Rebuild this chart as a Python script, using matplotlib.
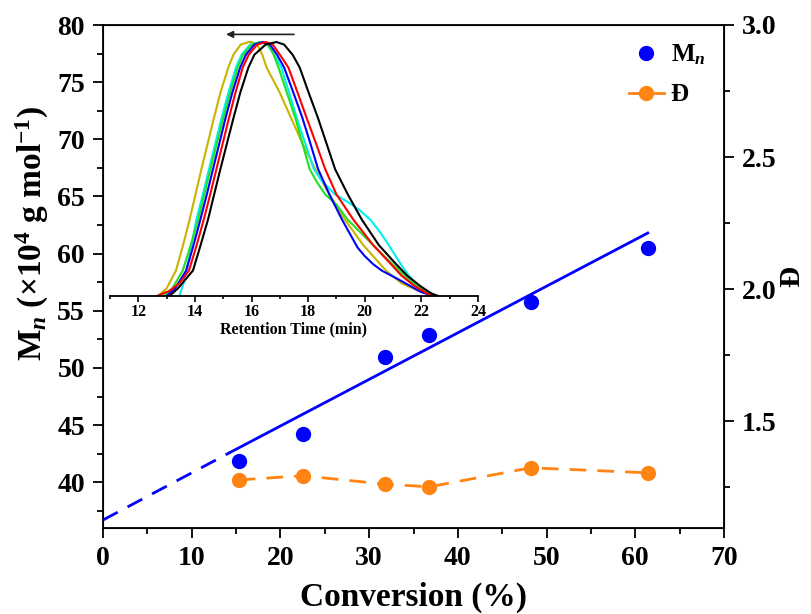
import matplotlib
matplotlib.use('Agg')
import matplotlib.pyplot as plt
from matplotlib.lines import Line2D
from matplotlib.ticker import MultipleLocator

plt.rcParams['font.family'] = ['Liberation Serif', 'DejaVu Serif']
plt.rcParams['font.weight'] = 'bold'
plt.rcParams['mathtext.fontset'] = 'custom'
plt.rcParams['mathtext.rm'] = 'Liberation Serif:bold'
plt.rcParams['mathtext.it'] = 'Liberation Serif:italic:bold'
plt.rcParams['mathtext.bf'] = 'Liberation Serif:bold'

# main data
conversion = [15.3, 22.5, 31.8, 36.8, 48.2, 61.4]
mn = [41.9, 44.2, 51.0, 52.9, 55.8, 60.5]
dispersity = [1.277, 1.293, 1.261, 1.251, 1.323, 1.304]

# linear fit
fit_dash_x = [0, 14.3]
fit_dash_y = [36.7, 42.6]
fit_solid_x = [14.3, 61.4]
fit_solid_y = [42.6, 61.8]

# GPC traces (retention time, normalised signal)
yellow_t = [12.7, 13.0, 13.33, 13.58, 13.81, 14.02, 14.23, 14.45, 14.67, 14.9, 15.18, 15.36, 15.62, 15.9,
            16.0, 16.2, 16.38, 16.53, 17.0, 17.4, 17.8, 18.25, 18.75, 19.3, 19.95, 20.75, 21.3, 21.9, 22.45]
yellow_s = [0, 0.03, 0.1, 0.2, 0.3, 0.4, 0.5, 0.6, 0.7, 0.8, 0.9, 0.95, 0.99, 1.0,
            1.0, 0.99, 0.95, 0.9, 0.8, 0.7, 0.6, 0.5, 0.4, 0.3, 0.2, 0.1, 0.05, 0.02, 0]
cyan_t = [13.45, 13.6, 13.7, 13.88, 14.05, 14.28, 14.5, 14.72, 14.94, 15.18, 15.45, 15.65, 15.95, 16.3,
          16.55, 16.8, 17.05, 17.33, 17.6, 17.9, 18.2, 18.5, 18.95, 19.4, 19.8, 20.2, 20.55, 20.85, 21.24, 21.55, 21.9, 22.5]
cyan_s = [0, 0.05, 0.1, 0.2, 0.3, 0.4, 0.5, 0.6, 0.7, 0.8, 0.9, 0.95, 0.99, 1.0,
          0.99, 0.95, 0.9, 0.8, 0.7, 0.6, 0.5, 0.45, 0.4, 0.37, 0.34, 0.3, 0.25, 0.2, 0.131, 0.08, 0.04, 0]
green_t = [12.9, 13.2, 13.57, 13.85, 14.11, 14.33, 14.55, 14.77, 15.0, 15.24, 15.51, 15.7, 16.0, 16.35,
           16.6, 16.78, 16.95, 17.25, 17.55, 17.8, 18.05, 18.3, 18.6, 19.0, 19.4, 19.76, 20.3, 20.75, 21.18, 21.6, 22.1, 22.4]
green_s = [0, 0.03, 0.1, 0.2, 0.3, 0.4, 0.5, 0.6, 0.7, 0.8, 0.9, 0.95, 0.99, 1.0,
           0.99, 0.95, 0.9, 0.8, 0.7, 0.6, 0.5, 0.45, 0.4, 0.36, 0.3, 0.26, 0.2, 0.15, 0.105, 0.06, 0.02, 0]
blue_t = [13.0, 13.3, 13.69, 13.95, 14.19, 14.42, 14.64, 14.86, 15.08, 15.32, 15.6, 15.8, 16.1, 16.4,
          16.65, 16.9, 17.15, 17.48, 17.8, 18.08, 18.35, 18.75, 19.2, 19.5, 19.75, 20.0, 20.3, 20.6, 21.18, 21.6, 22.0, 22.45]
blue_s = [0, 0.03, 0.1, 0.2, 0.3, 0.4, 0.5, 0.6, 0.7, 0.8, 0.9, 0.95, 0.99, 1.0,
          0.99, 0.95, 0.9, 0.8, 0.7, 0.6, 0.5, 0.4, 0.3, 0.24, 0.19, 0.157, 0.125, 0.1, 0.066, 0.04, 0.015, 0]
red_t = [12.65, 13.1, 13.45, 13.79, 14.06, 14.31, 14.54, 14.76, 14.98, 15.2, 15.43, 15.69, 15.9, 16.2, 16.5,
         16.75, 17.0, 17.3, 17.63, 17.95, 18.28, 18.6, 19.0, 19.6, 20.3, 20.88, 21.3, 21.75, 22.2, 22.5]
red_s = [0, 0.02, 0.05, 0.1, 0.2, 0.3, 0.4, 0.5, 0.6, 0.7, 0.8, 0.9, 0.95, 0.99, 1.0,
         0.99, 0.95, 0.9, 0.8, 0.7, 0.6, 0.5, 0.4, 0.3, 0.2, 0.131, 0.08, 0.04, 0.01, 0]
black_t = [13.1, 13.4, 13.93, 14.2, 14.46, 14.68, 14.9, 15.13, 15.36, 15.6, 15.89, 16.1, 16.5, 16.88,
           17.15, 17.45, 17.7, 18.02, 18.35, 18.65, 18.95, 19.4, 19.9, 20.5, 21.06, 21.5, 21.95, 22.35, 22.6]
black_s = [0, 0.03, 0.1, 0.2, 0.3, 0.4, 0.5, 0.6, 0.7, 0.8, 0.9, 0.95, 0.99, 1.0,
           0.99, 0.95, 0.9, 0.8, 0.7, 0.6, 0.5, 0.4, 0.3, 0.2, 0.131, 0.08, 0.04, 0.01, 0]

BLUE = '#0000FF'
ORANGE = '#FF8411'

fig = plt.figure(figsize=(8.11, 6.14), dpi=100)
ax = fig.add_axes([103/811, 1 - 528/614, 621/811, 503/614])

ax.plot(fit_dash_x, fit_dash_y, color=BLUE, lw=2, ls=(0, (6, 4)))
ax.plot(fit_solid_x, fit_solid_y, color=BLUE, lw=2)
ax.plot(conversion, mn, 'o', color=BLUE, ms=10, zorder=5)

ax.set_xlim(0, 70)
ax.set_ylim(36, 80)
ax.xaxis.set_major_locator(MultipleLocator(10))
ax.xaxis.set_minor_locator(MultipleLocator(5))
ax.yaxis.set_major_locator(MultipleLocator(5))
ax.yaxis.set_minor_locator(MultipleLocator(2.5))
ax.tick_params(which='major', direction='out', length=7, width=1.3, labelsize=20, pad=6)
ax.tick_params(which='minor', direction='out', length=4, width=1.3)
ax.tick_params(axis='y', which='both', right=False)
for s in ax.spines.values():
    s.set_linewidth(1.3)
ax.set_xlabel('Conversion (%)', fontsize=24, fontweight='bold')
ax.xaxis.set_label_coords(0.5, -0.107)
ax.set_ylabel(r'M$_n$ (×10$^4$ g mol$^{-1}$)', fontsize=24, fontweight='bold')
ax.yaxis.set_label_coords(-0.083, 0.585)

ax2 = ax.twinx()
ax2.plot(conversion, dispersity, color=ORANGE, lw=2, ls=(0, (6, 4)),
         marker='o', ms=10)
ax2.set_ylim(1.095, 3.0)
ax2.yaxis.set_major_locator(MultipleLocator(0.5))
ax2.yaxis.set_minor_locator(MultipleLocator(0.25))
ax2.tick_params(which='major', direction='out', length=7, width=1.3, labelsize=20, pad=6)
ax2.tick_params(which='minor', direction='out', length=4, width=1.3)
ax2.set_ylabel('Đ', fontsize=21, fontweight='bold')
ax2.yaxis.set_label_coords(1.088, 0.5)

handles = [Line2D([], [], color=BLUE, marker='o', ms=10, ls='none'),
           Line2D([], [], color=ORANGE, marker='o', ms=10, lw=2)]
ax2.legend(handles, [r'M$_n$', 'Đ'], loc='upper right', bbox_to_anchor=(1.006, 1.010),
           frameon=False, fontsize=18, handlelength=1.4, handletextpad=0.28,
           labelspacing=0.65)

# inset with GPC traces
ins = fig.add_axes([110/811, 1 - 296/614, 368/811, 271/614])
ins.patch.set_alpha(0)
ins.plot(yellow_t, yellow_s, color='#C8B400', lw=1.5)
ins.plot(cyan_t, cyan_s, color='#00F0F0', lw=1.5)
ins.plot(green_t, green_s, color='#22E022', lw=1.5)
ins.plot(blue_t, blue_s, color=BLUE, lw=1.5)
ins.plot(red_t, red_s, color='#FF0000', lw=1.5)
ins.plot(black_t, black_s, color='black', lw=1.5)
ins.annotate('', xy=(15.1, 1.03), xytext=(17.5, 1.03),
             arrowprops=dict(arrowstyle='-|>', color='#222222', lw=1.2,
                             mutation_scale=10, shrinkA=0, shrinkB=0))
ins.set_xlim(11, 24)
ins.set_ylim(0, 1.067)
for side in ['left', 'right', 'top']:
    ins.spines[side].set_visible(False)
ins.spines['bottom'].set_linewidth(1.3)
ins.set_yticks([])
ins.xaxis.set_major_locator(MultipleLocator(2))
ins.xaxis.set_minor_locator(MultipleLocator(1))
ins.tick_params(which='major', direction='out', length=4, width=1.2, labelsize=11.5, pad=2)
ins.tick_params(which='minor', direction='out', length=2.5, width=1.2)
ins.set_xlabel('Retention Time (min)', fontsize=11.5, fontweight='bold', labelpad=1)

fig.savefig('out.png', dpi=100)
